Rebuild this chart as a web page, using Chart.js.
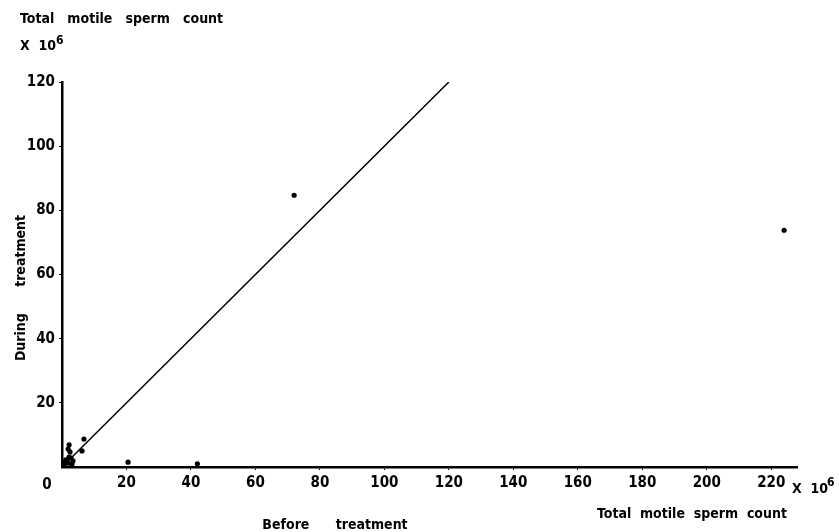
<!DOCTYPE html>
<html>
<head>
<meta charset="utf-8">
<script src="https://cdn.jsdelivr.net/npm/chart.js@4.4.1/dist/chart.umd.min.js"></script>
<style>
  html, body { margin: 0; padding: 0; background: #fff; }
  #wrap { width: 839px; height: 532px; }
</style>
</head>
<body>
<div id="wrap"><canvas id="spermChart" width="839" height="532"></canvas></div>
<script>
// Total motile sperm count (x 10^6), each patient
const beforeTreatment = [2.2, 6.8, 1.9, 2.5, 6.2, 2.2, 2.8, 1.2, 3.4, 0.9, 1.9, 3.1, 0.6, 20.5, 42, 72, 224];
const duringTreatment = [6.9, 8.7, 5.6, 4.7, 5.0, 3.1, 2.8, 2.2, 1.9, 1.6, 1.2, 0.9, 0.6, 1.5, 1.0, 84.7, 73.8];

// Line of equality
const lineX = [0, 120];
const lineY = [0, 120];

const xTicks = [20, 40, 60, 80, 100, 120, 140, 160, 180, 200, 220];
const yTicks = [20, 40, 60, 80, 100, 120];

const FONT = '"DejaVu Sans Condensed", "Liberation Sans Narrow", "DejaVu Sans", sans-serif';

const points = beforeTreatment.map((b, i) => ({ x: b, y: duringTreatment[i] }));
const linePts = lineX.map((x, i) => ({ x: x, y: lineY[i] }));

// axis titles and the "0" at the origin
const labelsPlugin = {
  id: "labels",
  afterDraw(chart) {
    const c = chart.ctx;
    c.save();
    c.fillStyle = "#000";
    c.textBaseline = "alphabetic";
    c.font = "bold 14px " + FONT;
    c.textAlign = "left";
    c.fillText("Total   motile   sperm   count", 20, 23);
    c.fillText("X  10", 20, 50);
    c.font = "bold 12px " + FONT;
    c.fillText("6", 56, 44);

    c.font = "bold 14px " + FONT;
    c.fillText("Total  motile  sperm  count", 597, 518);
    c.fillText("X  10", 792, 493);
    c.font = "bold 12px " + FONT;
    c.fillText("6", 827, 486);

    c.font = "bold 14px " + FONT;
    c.textAlign = "center";
    c.fillText("Before      treatment", 335, 529);

    const x0 = chart.scales.x.getPixelForValue(0);
    const y0 = chart.scales.y.getPixelForValue(0);
    c.font = "bold 15px " + FONT;
    c.fillText("0", x0 - 15, y0 + 22);

    c.translate(25, 288);
    c.rotate(-Math.PI / 2);
    c.font = "bold 14px " + FONT;
    c.fillText("During      treatment", 0, 0);
    c.restore();
  }
};

const ctx = document.getElementById("spermChart").getContext("2d");
const myChart = new Chart(ctx, {
  type: "scatter",
  data: {
    datasets: [
      {
        type: "line",
        data: linePts,
        borderColor: "#000",
        borderWidth: 1.5,
        pointRadius: 0,
        fill: false
      },
      {
        data: points,
        backgroundColor: "#000",
        borderColor: "#000",
        pointRadius: 2.6,
        pointBorderWidth: 0
      }
    ]
  },
  options: {
    responsive: false,
    animation: false,
    events: [],
    layout: { padding: { left: 0, right: 42, top: 82, bottom: 0 } },
    plugins: { legend: { display: false }, tooltip: { enabled: false } },
    scales: {
      x: {
        type: "linear",
        min: 0,
        max: 228,
        afterFit(s) { s.height = 65; },
        afterBuildTicks(s) { s.ticks = xTicks.map(v => ({ value: v })); },
        border: { color: "#000", width: 2.5 },
        grid: { drawOnChartArea: false, drawTicks: true, tickLength: 3, color: "#000" },
        ticks: {
          color: "#000",
          padding: 4,
          maxRotation: 0,
          font: { family: FONT, size: 15, weight: "bold" }
        }
      },
      y: {
        type: "linear",
        min: 0,
        max: 120,
        afterFit(s) { s.width = 62; },
        afterBuildTicks(s) { s.ticks = yTicks.map(v => ({ value: v })); },
        border: { color: "#000", width: 2.5 },
        grid: { drawOnChartArea: false, drawTicks: true, tickLength: 3, color: "#000" },
        ticks: {
          color: "#000",
          padding: 4,
          font: { family: FONT, size: 15, weight: "bold" }
        }
      }
    }
  },
  plugins: [labelsPlugin]
});
</script>
</body>
</html>
